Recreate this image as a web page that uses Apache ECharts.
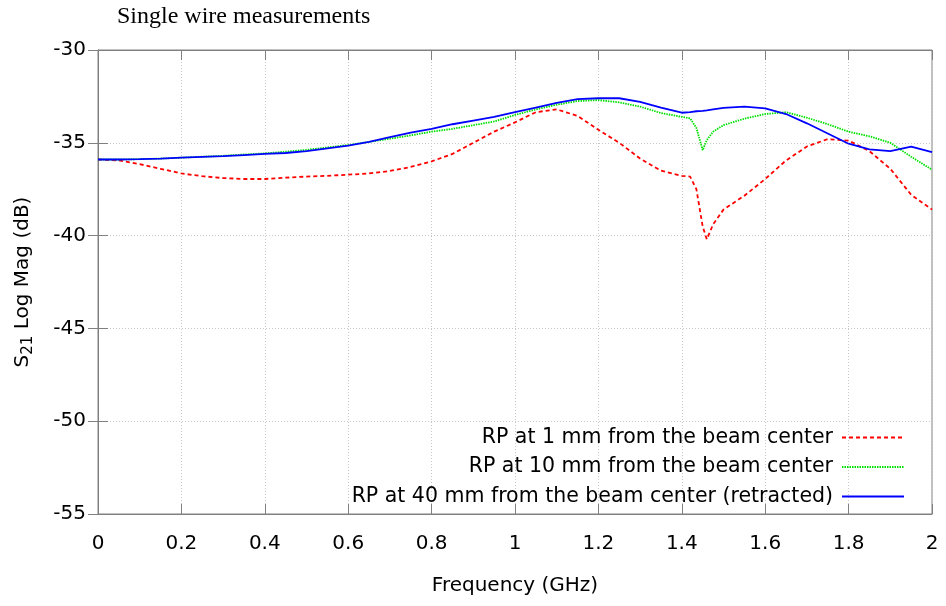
<!DOCTYPE html>
<html>
<head>
<meta charset="utf-8">
<script src="https://cdn.jsdelivr.net/npm/echarts@6/dist/echarts.min.js"></script>
<style>
  html, body { margin: 0; padding: 0; background: #fff; }
  #chart { width: 946px; height: 606px; }
</style>
</head>
<body>
<div id="chart"></div>
<script>
// Frequency grid (GHz), denser around the 1.45 GHz resonance
const freq = [0, 0.05, 0.1, 0.15, 0.2, 0.25, 0.3, 0.35, 0.4, 0.45, 0.5, 0.55, 0.6, 0.65, 0.7, 0.75,
  0.8, 0.85, 0.9, 0.95, 1.0, 1.05, 1.1, 1.15, 1.2, 1.25, 1.3, 1.35, 1.4, 1.42, 1.435, 1.45, 1.46,
  1.475, 1.5, 1.55, 1.6, 1.65, 1.7, 1.75, 1.8, 1.85, 1.9, 1.95, 2.0];

// S21 log magnitude (dB)
const rp1mm = [-35.9, -35.95, -36.15, -36.4, -36.65, -36.8, -36.9, -36.95, -36.95, -36.88, -36.82,
  -36.78, -36.72, -36.65, -36.52, -36.3, -36.0, -35.6, -35.0, -34.4, -33.9, -33.35, -33.2, -33.55,
  -34.3, -35.0, -35.85, -36.5, -36.78, -36.82, -37.5, -39.5, -40.2, -39.4, -38.6, -37.85, -36.95,
  -35.95, -35.2, -34.8, -34.88, -35.45, -36.4, -37.8, -38.6];

const rp10mm = [-35.9, -35.9, -35.88, -35.85, -35.8, -35.75, -35.7, -35.63, -35.57, -35.48, -35.38,
  -35.25, -35.12, -34.95, -34.78, -34.6, -34.4, -34.25, -34.05, -33.85, -33.5, -33.2, -32.95, -32.75,
  -32.7, -32.82, -33.05, -33.4, -33.6, -33.68, -34.2, -35.4, -34.85, -34.4, -34.05, -33.7, -33.45,
  -33.35, -33.65, -34.0, -34.4, -34.65, -35.0, -35.75, -36.45];

const rp40mm = [-35.9, -35.9, -35.88, -35.85, -35.8, -35.76, -35.72, -35.66, -35.6, -35.55, -35.45,
  -35.3, -35.15, -34.95, -34.7, -34.45, -34.25, -34.0, -33.8, -33.6, -33.35, -33.1, -32.85, -32.65,
  -32.6, -32.6, -32.8, -33.1, -33.38, -33.35, -33.3, -33.28, -33.25, -33.2, -33.12, -33.05, -33.15,
  -33.45, -33.95, -34.5, -35.05, -35.35, -35.45, -35.2, -35.5];

const seriesNames = [
  'RP at 1 mm from the beam center',
  'RP at 10 mm from the beam center',
  'RP at 40 mm from the beam center (retracted)'
];

const xTicks = { min: 0, max: 2, step: 0.2 };
const yTicks = { min: -55, max: -30, step: 5 };

const FONT = 'DejaVu Sans';
const frameColor = '#808080';

const pairs = vals => freq.map((f, i) => [f, vals[i]]);

const chart = echarts.init(document.getElementById('chart'), null, { renderer: 'canvas' });

const tickInside = { show: true, inside: true, length: 10, lineStyle: { color: frameColor, width: 1 } };

chart.setOption({
  animation: false,
  backgroundColor: '#ffffff',
  title: {
    text: 'Single wire measurements',
    left: 112,
    top: 0,
    textStyle: { fontFamily: 'Liberation Serif', fontSize: 24, fontWeight: 'normal', color: '#000' }
  },
  grid: {
    left: 98, right: 14, top: 50, bottom: 92,
    show: true, borderColor: frameColor, borderWidth: 1, backgroundColor: 'transparent'
  },
  legend: {
    orient: 'vertical',
    right: 36,
    top: 422,
    align: 'right',
    itemWidth: 62,
    itemHeight: 14,
    itemGap: 8.5,
    itemStyle: { opacity: 0 },
    textStyle: { fontFamily: FONT, fontSize: 20.5, color: '#000', padding: [0, 4, 0, 0] },
    data: seriesNames
  },
  xAxis: [{
    type: 'value',
    min: xTicks.min, max: xTicks.max, interval: xTicks.step,
    name: 'Frequency (GHz)',
    nameLocation: 'middle',
    nameGap: 62,
    nameTextStyle: { fontFamily: FONT, fontSize: 20, color: '#000' },
    axisLine: { show: true, lineStyle: { color: frameColor } },
    axisTick: tickInside,
    axisLabel: {
      fontFamily: FONT, fontSize: 20, color: '#000', margin: 20,
      formatter: v => String(+v.toFixed(1))
    },
    splitLine: { show: true, lineStyle: { color: '#c8c8c8', type: [1, 2], width: 1 } }
  }, {
    type: 'value', position: 'top',
    min: xTicks.min, max: xTicks.max, interval: xTicks.step,
    axisLine: { show: true, lineStyle: { color: frameColor } },
    axisTick: tickInside,
    axisLabel: { show: false },
    splitLine: { show: false }
  }],
  yAxis: [{
    type: 'value',
    min: yTicks.min, max: yTicks.max, interval: yTicks.step,
    name: '{a|S}{b|21}{a| Log Mag (dB)}',
    nameLocation: 'middle',
    nameRotate: 90,
    nameGap: 62,
    nameTextStyle: {
      rich: {
        a: { fontFamily: FONT, fontSize: 20, color: '#000', lineHeight: 26 },
        b: { fontFamily: FONT, fontSize: 15, color: '#000', lineHeight: 26, verticalAlign: 'bottom', padding: [8, 0, 0, 0] }
      }
    },
    axisLine: { show: true, lineStyle: { color: frameColor } },
    axisTick: tickInside,
    axisLabel: { fontFamily: FONT, fontSize: 20, color: '#000', margin: 12 },
    splitLine: { show: true, lineStyle: { color: '#c8c8c8', type: [1, 2], width: 1 } }
  }, {
    type: 'value', position: 'right',
    min: yTicks.min, max: yTicks.max, interval: yTicks.step,
    axisLine: { show: true, lineStyle: { color: frameColor } },
    axisTick: tickInside,
    axisLabel: { show: false },
    splitLine: { show: false }
  }],
  series: [{
    name: seriesNames[0], type: 'line', showSymbol: false, symbol: 'none',
    data: pairs(rp1mm),
    lineStyle: { color: '#ff0000', width: 1.8, type: [4, 3] },
    itemStyle: { color: '#ff0000' }
  }, {
    name: seriesNames[1], type: 'line', showSymbol: false, symbol: 'none',
    data: pairs(rp10mm),
    lineStyle: { color: '#00e000', width: 1.8, type: [1.5, 1] },
    itemStyle: { color: '#00e000' }
  }, {
    name: seriesNames[2], type: 'line', showSymbol: false, symbol: 'none',
    data: pairs(rp40mm),
    lineStyle: { color: '#0000ff', width: 1.8 },
    itemStyle: { color: '#0000ff' }
  }]
});
</script>
</body>
</html>
